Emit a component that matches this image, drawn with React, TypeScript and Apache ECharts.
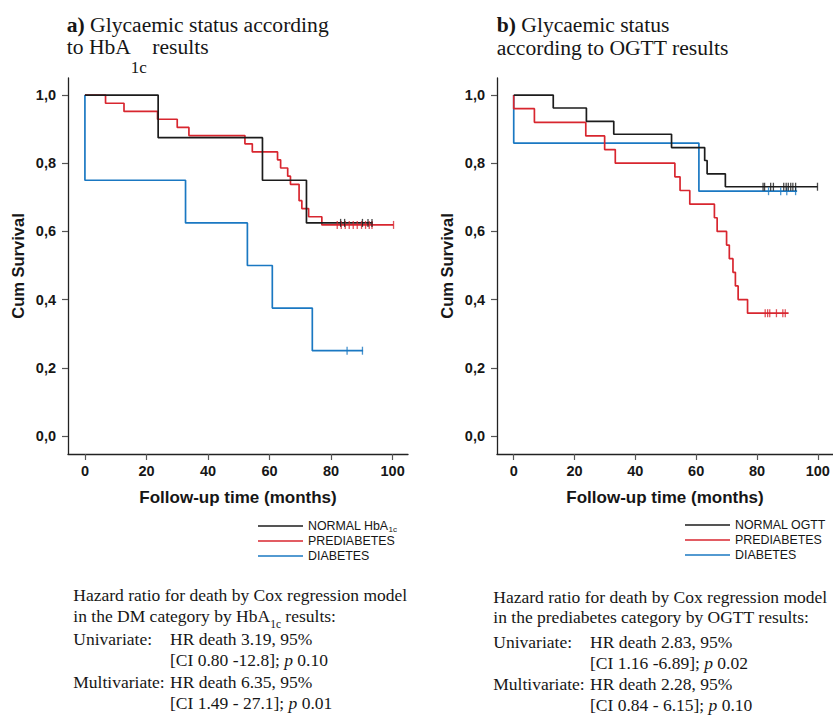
import React, { useEffect, useRef } from "react";
import * as echarts from "echarts";

// ---------- data ----------
// Panel a: HbA1c
const aNormalT = [0, 23.8, 57.7, 72.0, 93.5];
const aNormalS = [1.0, 0.875, 0.75, 0.625, 0.625];
const aNormalCens = [83.1, 84.4, 90.2, 92.0, 93.3];

const aPreT = [0, 6.7, 12.7, 23.6, 30.0, 33.8, 52.0, 54.4, 62.6, 63.6, 65.9, 66.8, 69.6, 70.5, 72.7, 77.0, 100.3];
const aPreS = [1.0, 0.976, 0.952, 0.929, 0.905, 0.881, 0.857, 0.833, 0.81, 0.786, 0.762, 0.738, 0.69, 0.667, 0.643, 0.619, 0.619];
const aPreCens = [82.0, 83.3, 84.6, 85.9, 87.2, 88.5, 89.9, 91.2, 92.4, 93.3, 100.3];

const aDiaT = [0, 0, 32.7, 52.8, 60.9, 73.9, 90.4];
const aDiaS = [1.0, 0.75, 0.625, 0.5, 0.375, 0.25, 0.25];
const aDiaCens = [85.2, 90.2];

// Panel b: OGTT
const bNormalT = [0, 13.0, 23.9, 32.9, 51.9, 62.8, 63.6, 69.6, 99.9];
const bNormalS = [1.0, 0.962, 0.923, 0.885, 0.846, 0.808, 0.769, 0.731, 0.731];
const bNormalCens = [82.0, 82.5, 84.5, 85.4, 88.8, 89.6, 90.3, 91.1, 91.8, 92.7, 99.9];

const bPreT = [0, 0, 6.8, 23.7, 29.9, 33.4, 53.0, 54.7, 57.9, 66.0, 66.9, 70.0, 70.9, 72.1, 72.9, 73.8, 76.9, 90.4];
const bPreS = [1.0, 0.96, 0.92, 0.88, 0.84, 0.8, 0.76, 0.72, 0.68, 0.64, 0.6, 0.56, 0.52, 0.48, 0.44, 0.4, 0.36, 0.36];
const bPreCens = [82.7, 83.5, 84.2, 86.4, 88.5, 89.3];

const bDiaT = [0, 0, 60.9, 93.2];
const bDiaS = [1.0, 0.859, 0.718, 0.718];
const bDiaCens = [83.8, 87.8, 89.8, 92.7];

const xTicks = [0, 20, 40, 60, 80, 100];
const yTicks = [0, 0.2, 0.4, 0.6, 0.8, 1.0];

const legendA = ["NORMAL HbA1c", "PREDIABETES", "DIABETES"];
const legendB = ["NORMAL OGTT", "PREDIABETES", "DIABETES"];

// ---------- styles ----------
const SANS = '"Liberation Sans", Arial, Helvetica, sans-serif';
const SERIF = '"Liberation Serif", "Times New Roman", Times, serif';
const C_BLACK = "#1c1c1c";
const C_RED = "#d8262f";
const C_BLUE = "#1a78c2";
const TXT = "#161616";

const zip = (t: number[], s: number[]) => t.map((v, i) => [v, s[i]]);

function km(name: string, t: number[], s: number[], color: string, idx: number, z: number) {
  return {
    type: "line",
    name,
    xAxisIndex: idx,
    yAxisIndex: idx,
    data: zip(t, s),
    step: "end",
    symbol: "none",
    showSymbol: false,
    silent: true,
    z,
    lineStyle: { color, width: 1.7 },
    itemStyle: { color },
  };
}

function cens(name: string, t: number[], s: number[], color: string, idx: number, z: number) {
  const last = s[s.length - 1];
  return {
    type: "scatter",
    name: name + " censored",
    xAxisIndex: idx,
    yAxisIndex: idx,
    data: t.map((v) => [v, last]),
    symbol: "rect",
    symbolSize: [1.3, 8],
    silent: true,
    z,
    itemStyle: { color },
  };
}

function xAxis(idx: number) {
  return {
    type: "value",
    gridIndex: idx,
    min: -5.5,
    max: 105,
    name: "Follow-up time (months)",
    nameLocation: "middle",
    nameGap: 35,
    nameTextStyle: { fontFamily: SANS, fontWeight: "bold", fontSize: 17, color: TXT },
    axisLine: { show: true, onZero: false, lineStyle: { color: "#222", width: 1.3 } },
    axisTick: { show: true, length: 6, customValues: xTicks, lineStyle: { color: "#555", width: 1.2 } },
    axisLabel: {
      show: true,
      customValues: xTicks,
      margin: 9,
      fontFamily: SANS,
      fontWeight: "bold",
      fontSize: 14.5,
      color: TXT,
    },
    splitLine: { show: false },
  };
}

function yAxis(idx: number) {
  return {
    type: "value",
    gridIndex: idx,
    min: -0.053,
    max: 1.05,
    name: "Cum Survival",
    nameLocation: "middle",
    nameRotate: 90,
    nameGap: 42,
    nameTextStyle: { fontFamily: SANS, fontWeight: "bold", fontSize: 16.5, color: TXT },
    axisLine: { show: true, onZero: false, lineStyle: { color: "#222", width: 1.3 } },
    axisTick: { show: true, length: 6, customValues: yTicks, lineStyle: { color: "#555", width: 1.2 } },
    axisLabel: {
      show: true,
      customValues: yTicks,
      margin: 12,
      fontFamily: SANS,
      fontWeight: "bold",
      fontSize: 14.5,
      color: TXT,
      formatter: (v: number) => v.toFixed(1).replace(".", ","),
    },
    splitLine: { show: false },
  };
}

function legend(data: string[], left: number, top: number) {
  return {
    data,
    left,
    top,
    orient: "vertical",
    icon: "rect",
    itemWidth: 45,
    itemHeight: 1.6,
    itemGap: 0,
    padding: 0,
    selectedMode: false,
    formatter: (n: string) => (n === "NORMAL HbA1c" ? "{m|NORMAL HbA}{s|1c}" : n),
    textStyle: {
      fontFamily: SANS,
      fontSize: 12.4,
      lineHeight: 15,
      color: TXT,
      rich: {
        m: { fontFamily: SANS, fontSize: 12.4, lineHeight: 15, color: TXT },
        s: { fontFamily: SANS, fontSize: 8, lineHeight: 3, verticalAlign: "bottom", color: TXT },
      },
    },
  };
}

function txt(x: number, y: number, text: string, rich: any, extra: any = {}) {
  return {
    type: "text",
    x,
    y,
    silent: true,
    style: {
      text,
      rich,
      fill: TXT,
      align: "left",
      verticalAlign: "middle",
      textAlign: "left",
      textVerticalAlign: "middle",
      ...extra,
    },
  };
}

const TF = 21.6;
const titleRich = {
  b: { fontFamily: SERIF, fontWeight: "bold", fontSize: TF, lineHeight: 24, fill: TXT },
  m: { fontFamily: SERIF, fontSize: TF, lineHeight: 24, fill: TXT },
  s: { fontFamily: SERIF, fontSize: 17, lineHeight: 20, padding: [40, 0, 0, 0], fill: TXT },
};
const BF = 17.5;
const SUBF = 11.5;
const bodyRich = {
  m: { fontFamily: SERIF, fontSize: BF, lineHeight: 17, fill: TXT },
  i: { fontFamily: SERIF, fontSize: BF, lineHeight: 17, fontStyle: "italic", fill: TXT },
  s: { fontFamily: SERIF, fontSize: SUBF, lineHeight: 10, fill: TXT },
};

function textWidth(text: string, size: number): number {
  const c = document.createElement("canvas");
  const ctx = c.getContext("2d");
  if (!ctx) return text.length * size * 0.45;
  ctx.font = `${size}px "Liberation Serif", "Times New Roman", serif`;
  return ctx.measureText(text).width;
}

export default function App() {
  const ref = useRef<HTMLDivElement>(null);
  useEffect(() => {
    if (!ref.current) return;
    const chart = echarts.init(ref.current, undefined, { renderer: "svg" });

    const l2a = "in the DM category by HbA";
    const l2b = "results:";
    const l2x0 = 73.3;
    const l2w1 = textWidth(l2a, BF);
    const l2w2 = textWidth("1c", SUBF);
    const l2sp = textWidth(" ", BF);

    const option: any = {
      animation: false,
      backgroundColor: "#ffffff",
      grid: [
        { left: 68, top: 78, width: 340, height: 376, containLabel: false },
        { left: 497, top: 78, width: 340, height: 376, containLabel: false },
      ],
      xAxis: [xAxis(0), xAxis(1)],
      yAxis: [yAxis(0), yAxis(1)],
      legend: [legend(legendA, 258, 518.5), legend(legendB, 685, 517.5)],
      series: [
        km("PREDIABETES", aPreT, aPreS, C_RED, 0, 3),
        km("NORMAL HbA1c", aNormalT, aNormalS, C_BLACK, 0, 4),
        km("DIABETES", aDiaT, aDiaS, C_BLUE, 0, 2),
        cens("PREDIABETES a", aPreCens, aPreS, C_RED, 0, 5),
        cens("NORMAL a", aNormalCens, aNormalS, C_BLACK, 0, 6),
        cens("DIABETES a", aDiaCens, aDiaS, C_BLUE, 0, 5),
        km("NORMAL OGTT", bNormalT, bNormalS, C_BLACK, 1, 4),
        km("PREDIABETES", bPreT, bPreS, C_RED, 1, 3),
        km("DIABETES", bDiaT, bDiaS, C_BLUE, 1, 2),
        cens("NORMAL b", bNormalCens, bNormalS, C_BLACK, 1, 6),
        cens("PREDIABETES b", bPreCens, bPreS, C_RED, 1, 5),
        cens("DIABETES b", bDiaCens, bDiaS, C_BLUE, 1, 5),
      ],
      graphic: [
        // titles
        txt(66.7, 24.5, "{b|a) }{m|Glycaemic status according}", titleRich),
        txt(66.7, 47.2, "{m|to HbA}{s|1c}{m| results}", titleRich),
        txt(496.7, 25, "{b|b) }{m|Glycaemic status}", titleRich),
        txt(496.7, 48.3, "{m|according to OGTT results}", titleRich),
        // text block a
        txt(73.3, 594.8, "{m|Hazard ratio for death by Cox regression model}", bodyRich),
        txt(l2x0, 615.8, "{m|" + l2a + "}", bodyRich),
        txt(l2x0 + l2w1, 623.5, "{s|1c}", bodyRich),
        txt(l2x0 + l2w1 + l2w2 + l2sp, 615.8, "{m|" + l2b + "}", bodyRich),
        txt(73.3, 639.3, "{m|Univariate:}", bodyRich),
        txt(170, 639.3, "{m|HR death 3.19, 95%}", bodyRich),
        txt(170, 660.2, "{m|[CI 0.80 -12.8]; }{i|p}{m| 0.10}", bodyRich),
        txt(73.3, 682.2, "{m|Multivariate:}", bodyRich),
        txt(170, 682.2, "{m|HR death 6.35, 95%}", bodyRich),
        txt(170, 703.2, "{m|[CI 1.49 - 27.1]; }{i|p}{m| 0.01}", bodyRich),
        // text block b
        txt(493.3, 596.5, "{m|Hazard ratio for death by Cox regression model}", bodyRich),
        txt(493.3, 617, "{m|in the prediabetes category by OGTT results:}", bodyRich),
        txt(493.3, 641.8, "{m|Univariate:}", bodyRich),
        txt(590, 641.8, "{m|HR death 2.83, 95%}", bodyRich),
        txt(590, 662.5, "{m|[CI 1.16 -6.89]; }{i|p}{m| 0.02}", bodyRich),
        txt(493.3, 684.3, "{m|Multivariate:}", bodyRich),
        txt(590, 684.3, "{m|HR death 2.28, 95%}", bodyRich),
        txt(590, 705.2, "{m|[CI 0.84 - 6.15]; }{i|p}{m| 0.10}", bodyRich),
      ],
    };
    chart.setOption(option);
    return () => chart.dispose();
  }, []);
  return (
    <div
      ref={ref}
      style={{ position: "fixed", left: 0, top: 0, width: 833, height: 716, background: "#fff" }}
    />
  );
}
